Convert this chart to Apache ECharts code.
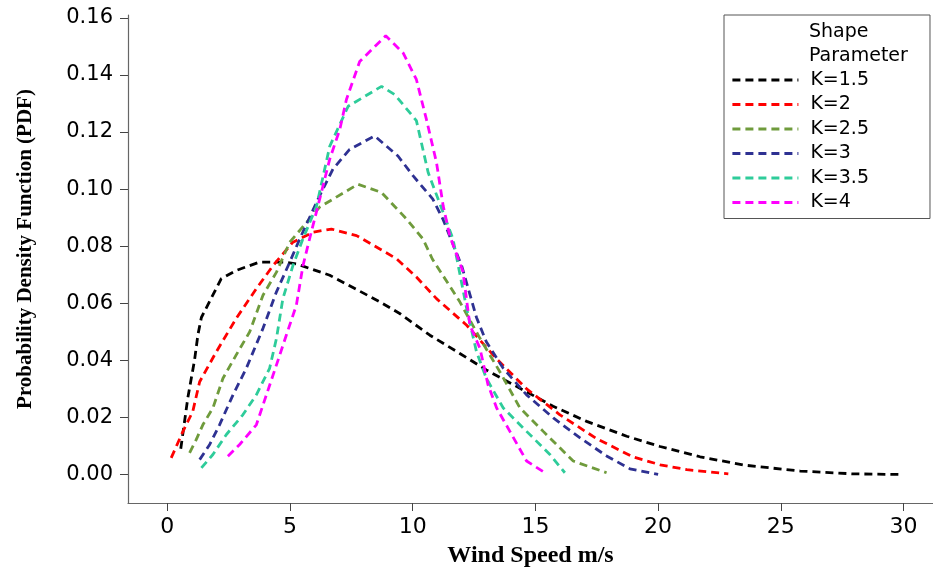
<!DOCTYPE html>
<html>
<head>
<meta charset="utf-8">
<script src="https://cdn.jsdelivr.net/npm/echarts@6/dist/echarts.min.js"></script>
<style>
html,body{margin:0;padding:0;background:#fff;}
#chart{width:933px;height:573px;}
</style>
</head>
<body>
<div id="chart"></div>
<script>
// Tick labels
var xTicks = [0, 5, 10, 15, 20, 25, 30];
var yTicks = [0, 0.02, 0.04, 0.06, 0.08, 0.10, 0.12, 0.14, 0.16];
var seriesNames = ['K=1.5', 'K=2', 'K=2.5', 'K=3', 'K=3.5', 'K=4'];

// Series values: [wind speed, pdf]
var k15 = [[0.55,0.009],[0.84,0.027],[1.11,0.040],[1.25,0.049],[1.39,0.055],[2.2,0.0686],[2.81,0.0715],[3.76,0.0744],[4.78,0.0744],[5.26,0.0738],[6.62,0.0698],[8.66,0.0605],[9.47,0.0564],[10.7,0.0488],[11.92,0.0424],[13.0,0.0366],[14.37,0.0302],[15.72,0.0239],[17.09,0.0186],[18.72,0.0134],[20.08,0.0098],[21.71,0.0062],[23.47,0.0033],[25.79,0.0012],[27.96,0.0002],[29.87,0.0]];
var k2 = [[0.16,0.0058],[0.64,0.0151],[1.04,0.0221],[1.32,0.0325],[2.0,0.043],[2.81,0.0547],[3.63,0.0651],[4.31,0.0732],[5.12,0.0814],[5.94,0.0849],[6.69,0.086],[7.71,0.0837],[8.66,0.079],[9.34,0.0756],[10.15,0.0692],[10.97,0.0616],[12.2,0.0523],[13.42,0.0405],[14.64,0.030],[16.0,0.0209],[17.5,0.0125],[18.99,0.0061],[20.08,0.0034],[21.17,0.0017],[22.86,0.0002]];
var k25 = [[0.91,0.0076],[1.18,0.0122],[1.45,0.0174],[1.86,0.0233],[2.27,0.0337],[2.81,0.0419],[3.36,0.05],[3.9,0.0628],[4.45,0.0709],[4.99,0.0814],[6.21,0.0937],[7.77,0.1017],[8.73,0.0988],[9.75,0.0895],[10.42,0.0825],[10.8,0.0755],[11.92,0.0605],[12.74,0.0477],[13.55,0.036],[14.37,0.0233],[15.32,0.0151],[16.54,0.0047],[17.9,0.0006]];
var k3 = [[1.32,0.0052],[1.73,0.0105],[2.13,0.0174],[2.68,0.0279],[3.22,0.0372],[3.9,0.0512],[4.45,0.064],[4.99,0.0744],[5.4,0.0826],[6.21,0.0977],[6.75,0.107],[7.43,0.1139],[8.45,0.1186],[9.40,0.1116],[10.02,0.1046],[10.82,0.0965],[11.23,0.0895],[12.0,0.073],[12.6,0.055],[13.0,0.0465],[13.69,0.0372],[14.64,0.0279],[15.73,0.0198],[16.82,0.0128],[17.9,0.0065],[18.85,0.002],[20.0,0.0]];
var k35 = [[1.39,0.0023],[1.86,0.007],[2.41,0.014],[3.08,0.0209],[3.63,0.0279],[4.17,0.0372],[4.45,0.0477],[4.71,0.0616],[5.12,0.0732],[5.53,0.0826],[6.08,0.094],[6.62,0.115],[7.37,0.129],[8.73,0.136],[9.27,0.1331],[10.15,0.1240],[10.63,0.1058],[11.64,0.0826],[12.2,0.0581],[12.6,0.043],[13.0,0.0337],[13.69,0.0233],[14.64,0.0151],[15.59,0.007],[16.2,0.0006]];
var k4 = [[2.47,0.0064],[2.95,0.0105],[3.63,0.0174],[4.04,0.0279],[4.45,0.0384],[4.85,0.0488],[5.26,0.0593],[5.53,0.0732],[5.8,0.0826],[6.21,0.0965],[6.62,0.1105],[7.03,0.1209],[7.30,0.1314],[7.84,0.1447],[8.9,0.1537],[9.61,0.1477],[10.15,0.1384],[10.56,0.1244],[10.97,0.1093],[11.24,0.0942],[11.51,0.0837],[12.05,0.071],[12.33,0.0523],[12.74,0.0442],[13.07,0.0314],[13.42,0.0233],[13.96,0.0151],[14.64,0.0047],[15.39,0.0006]];

var seriesData = [k15, k2, k25, k3, k35, k4];
var colors = ['#000000', '#ff0000', '#6f9b3c', '#2e3192', '#2ecc9a', '#ff00ff'];

var chart = echarts.init(document.getElementById('chart'), null, {renderer: 'canvas'});

var series = seriesNames.map(function (name, i) {
  return {
    name: name,
    type: 'line',
    data: seriesData[i],
    showSymbol: false,
    symbol: 'none',
    smooth: false,
    lineStyle: {color: colors[i], width: 2.8, type: [8, 5]},
    itemStyle: {color: colors[i]},
    z: 2 + i
  };
});

var option = {
  animation: false,
  backgroundColor: '#ffffff',
  color: colors,
  grid: {left: 128, top: 15, right: 0, bottom: 68, containLabel: false},
  xAxis: {
    type: 'value',
    min: -1.6,
    max: 31.2,
    name: 'Wind Speed m/s',
    nameLocation: 'middle',
    nameGap: 41,
    nameTextStyle: {fontFamily: 'Liberation Serif', fontWeight: 'bold', fontSize: 24, color: '#000'},
    axisLine: {show: true, onZero: false, lineStyle: {color: '#666', width: 1.2}},
    axisTick: {show: true, length: 8, customValues: xTicks, lineStyle: {color: '#444'}},
    axisLabel: {customValues: xTicks, margin: 13, fontFamily: 'DejaVu Sans', fontSize: 22, color: '#000'},
    splitLine: {show: false}
  },
  yAxis: {
    type: 'value',
    min: -0.01,
    max: 0.161,
    name: 'Probability Density Function (PDF)',
    nameLocation: 'middle',
    nameRotate: 90,
    nameGap: 92,
    nameTextStyle: {fontFamily: 'Liberation Serif', fontWeight: 'bold', fontSize: 21, color: '#000', padding: [0, 0, 0, 20]},
    axisLine: {show: true, onZero: false, lineStyle: {color: '#666', width: 1.2}},
    axisTick: {show: true, length: 8, customValues: yTicks, lineStyle: {color: '#444'}},
    axisLabel: {
      customValues: yTicks, margin: 15, fontFamily: 'DejaVu Sans', fontSize: 21, color: '#000',
      formatter: function (v) { return v.toFixed(2); }
    },
    splitLine: {show: false}
  },
  legend: {
    show: true,
    orient: 'vertical',
    left: 724,
    top: 15,
    padding: [53, 61, 4, 7],
    itemWidth: 66,
    itemHeight: 14,
    itemGap: 0.5,
    borderColor: '#555',
    borderWidth: 1,
    backgroundColor: '#fff',
    data: seriesNames,
    itemStyle: {opacity: 0},
    lineStyle: {width: 2.8},
    textStyle: {fontFamily: 'DejaVu Sans', fontSize: 19, color: '#000', lineHeight: 24, padding: [0, 0, 0, 7]}
  },
  graphic: [{
    type: 'text',
    left: 809,
    top: 20,
    z: 100,
    style: {text: 'Shape\nParameter', fontFamily: 'DejaVu Sans', fontSize: 19, lineHeight: 24, fill: '#000'}
  }],
  series: series
};
chart.setOption(option);
</script>
</body>
</html>
